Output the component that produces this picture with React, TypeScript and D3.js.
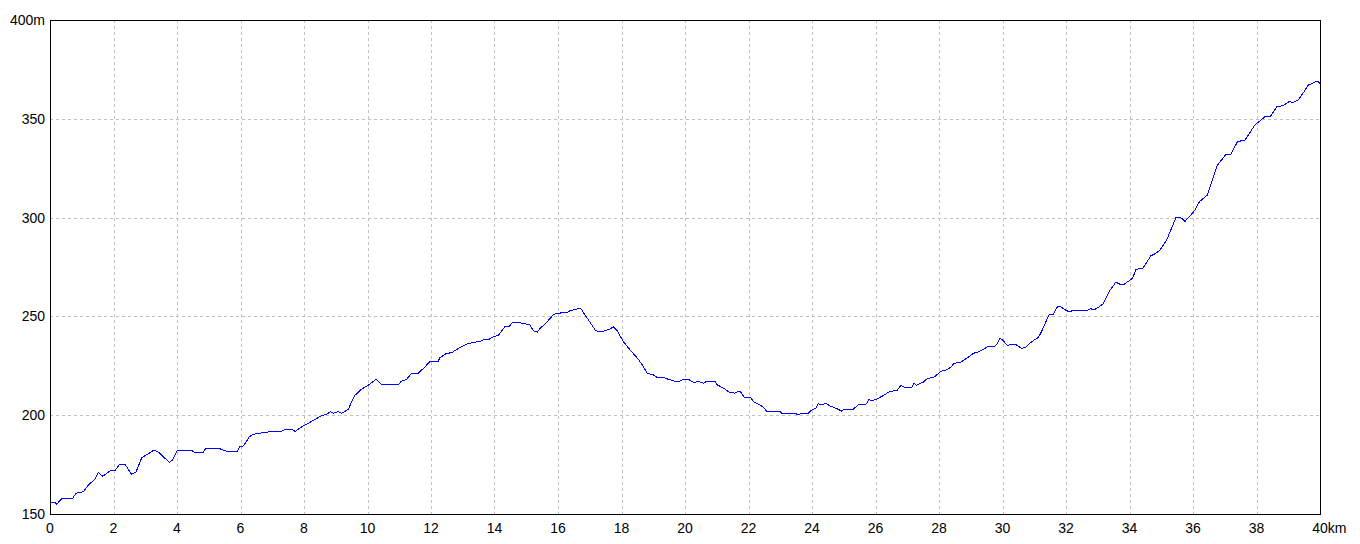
import React from "react";
import * as d3 from "d3";

const distanceKm = [
  0.0, 0.16, 0.21, 0.37, 0.71, 0.82, 1.05, 1.21, 1.42, 1.52, 1.66, 1.89, 2.05, 2.2, 2.36, 2.57, 2.71, 2.89,
  3.15, 3.28, 3.41, 3.62, 3.76, 3.86, 4.01, 4.46, 4.54, 4.83, 4.9, 5.35, 5.62, 5.88, 5.98, 6.09, 6.28, 6.4,
  6.77, 7.03, 7.3, 7.4, 7.61, 7.72, 7.98, 8.19, 8.56, 8.71, 8.84, 8.92, 9.08, 9.19, 9.4, 9.5, 9.6, 9.8, 10.0,
  10.08, 10.27, 10.45, 10.97, 11.05, 11.23, 11.39, 11.6, 11.76, 11.97, 12.23, 12.28, 12.49, 12.65, 12.86,
  13.12, 13.33, 13.54, 13.65, 13.8, 13.96, 14.12, 14.33, 14.47, 14.57, 14.8, 14.89, 15.1, 15.22, 15.35,
  15.45, 15.59, 15.75, 15.87, 16.06, 16.15, 16.32, 16.38, 16.56, 16.67, 16.74, 16.85, 17.0, 17.17, 17.27,
  17.43, 17.53, 17.64, 17.74, 17.85, 18.06, 18.32, 18.53, 18.69, 18.81, 19.0, 19.11, 19.32, 19.47, 19.65,
  19.84, 19.95, 20.1, 20.28, 20.42, 20.58, 20.7, 20.94, 21.02, 21.2, 21.42, 21.57, 21.68, 21.75, 21.86,
  22.05, 22.17, 22.36, 22.47, 22.57, 22.97, 23.05, 23.46, 23.57, 23.67, 23.88, 23.99, 24.12, 24.2, 24.31,
  24.44, 24.57, 24.78, 24.93, 25.04, 25.3, 25.46, 25.69, 25.8, 25.88, 26.02, 26.24, 26.46, 26.67, 26.8,
  26.93, 27.14, 27.21, 27.3, 27.4, 27.5, 27.59, 27.87, 28.05, 28.24, 28.4, 28.47, 28.66, 28.87, 29.08,
  29.24, 29.45, 29.52, 29.76, 29.84, 29.92, 30.03, 30.15, 30.29, 30.43, 30.6, 30.71, 30.92, 31.13, 31.23,
  31.47, 31.6, 31.73, 31.83, 32.02, 32.13, 32.21, 32.7, 32.78, 32.88, 33.02, 33.17, 33.39, 33.57, 33.7,
  33.83, 34.1, 34.2, 34.42, 34.67, 34.86, 34.96, 35.17, 35.3, 35.46, 35.62, 35.75, 35.93, 36.06, 36.2,
  36.45, 36.58, 36.77, 37.04, 37.19, 37.4, 37.64, 37.95, 38.27, 38.43, 38.64, 38.83, 39.03, 39.17, 39.31,
  39.5, 39.63, 39.88, 39.95, 40.0,
];

const elevationM = [
  155.9, 155.9, 154.9, 157.8, 157.8, 160.5, 161.3, 164.7, 167.7, 171.1, 169.1, 171.8, 172.1, 175.2, 175.2,
  170.1, 171.3, 178.5, 181.0, 182.4, 181.4, 178.2, 176.2, 177.3, 182.2, 182.2, 181.2, 181.2, 183.2, 183.0,
  181.4, 181.4, 184.1, 184.4, 189.1, 190.3, 191.3, 191.8, 191.8, 192.9, 192.9, 191.8, 194.7, 196.4, 199.8,
  200.5, 201.8, 201.0, 201.8, 201.0, 203.0, 206.8, 210.0, 213.0, 215.0, 215.8, 218.2, 215.3, 215.3, 217.0,
  218.2, 221.2, 221.2, 223.7, 227.1, 227.4, 229.1, 231.3, 231.6, 233.8, 235.9, 236.9, 237.2, 238.1, 238.1,
  239.7, 240.4, 244.8, 245.1, 247.0, 247.0, 246.3, 246.0, 242.8, 242.0, 244.3, 246.0, 249.0, 251.1, 251.6,
  252.2, 252.2, 252.9, 253.6, 254.1, 253.6, 250.7, 247.3, 243.1, 242.1, 242.4, 243.1, 243.6, 244.8, 243.1,
  237.2, 232.1, 228.3, 224.6, 221.2, 220.4, 219.2, 219.2, 218.2, 217.3, 217.3, 218.2, 218.2, 216.5, 217.2,
  216.2, 217.3, 217.3, 215.3, 213.8, 211.4, 211.2, 212.1, 211.9, 209.2, 209.1, 206.8, 205.2, 204.0, 202.1,
  202.1, 201.0, 201.0, 200.1, 201.0, 201.0, 202.6, 203.5, 205.8, 205.2, 206.0, 204.7, 203.3, 202.1, 203.1,
  203.1, 205.2, 205.2, 208.0, 207.3, 208.0, 209.9, 212.1, 212.4, 215.1, 214.1, 214.1, 216.2, 215.1, 216.2,
  216.5, 218.2, 219.5, 222.2, 222.9, 224.6, 226.3, 226.6, 228.8, 231.3, 232.0, 233.8, 234.7, 235.0, 236.4,
  238.9, 237.7, 235.2, 236.0, 235.7, 233.8, 234.2, 237.2, 239.4, 242.3, 251.1, 251.1, 254.9, 254.9, 252.9,
  252.2, 253.2, 253.2, 253.9, 253.2, 254.6, 256.3, 263.4, 267.3, 266.3, 266.3, 269.3, 273.8, 274.3, 280.6,
  282.2, 283.6, 288.7, 293.7, 299.9, 299.9, 298.1, 301.3, 303.8, 308.0, 311.4, 317.4, 326.6, 332.0, 332.0,
  338.4, 339.3, 346.9, 351.1, 351.1, 356.1, 356.6, 358.7, 358.3, 359.5, 363.7, 367.1, 368.8, 368.8, 367.6,
];

const xTicks = [0, 2, 4, 6, 8, 10, 12, 14, 16, 18, 20, 22, 24, 26, 28, 30, 32, 34, 36, 38, 40];
const yTicks = [150, 200, 250, 300, 350, 400];
const xUnit = "km";
const yUnit = "m";

export default function App() {
  const width = 1360;
  const height = 544;
  const left = 50;
  const right = 1320;
  const top = 20;
  const bottom = 514;
  const x = d3.scaleLinear().domain([0, 40]).range([left, right]);
  const y = d3.scaleLinear().domain([150, 400]).range([bottom, top]);
  const line = d3
    .line<number>()
    .x((_, i) => x(distanceKm[i]))
    .y((d) => y(d));
  const path = line(elevationM) || "";
  const font = "'Liberation Sans', Arial, sans-serif";
  const lastX = xTicks[xTicks.length - 1];
  const lastY = yTicks[yTicks.length - 1];

  return (
    <svg
      width={width}
      height={height}
      style={{ position: "absolute", left: 0, top: 0, background: "#fff" }}
    >
      <rect x={0} y={0} width={width} height={height} fill="#fff" />
      {xTicks.slice(1, -1).map((t) => (
        <line
          key={"gx" + t}
          x1={Math.round(x(t)) + 0.5}
          x2={Math.round(x(t)) + 0.5}
          y1={top}
          y2={bottom}
          stroke="#c0c0c0"
          strokeDasharray="3,3"
          shapeRendering="crispEdges"
        />
      ))}
      {yTicks.slice(1, -1).map((t) => (
        <line
          key={"gy" + t}
          x1={left}
          x2={right}
          y1={Math.round(y(t)) + 0.5}
          y2={Math.round(y(t)) + 0.5}
          stroke="#c0c0c0"
          strokeDasharray="3,3"
          shapeRendering="crispEdges"
        />
      ))}
      <path
        d={path}
        fill="none"
        stroke="#0000ff"
        strokeWidth={1}
        shapeRendering="crispEdges"
      />
      <rect
        x={left + 0.5}
        y={top + 0.5}
        width={right - left}
        height={bottom - top}
        fill="none"
        stroke="#000"
        strokeWidth={1}
        shapeRendering="crispEdges"
      />
      {xTicks.map((t) =>
        t === lastX ? (
          <text
            key={"tx" + t}
            x={x(t) - 7.8}
            y={533}
            fontFamily={font}
            fontSize={14}
            fill="#000"
          >
            {t + xUnit}
          </text>
        ) : (
          <text
            key={"tx" + t}
            x={x(t)}
            y={533}
            textAnchor="middle"
            fontFamily={font}
            fontSize={14}
            fill="#000"
          >
            {t}
          </text>
        )
      )}
      {yTicks.map((t) => (
        <text
          key={"ty" + t}
          x={45}
          y={y(t) + 5}
          textAnchor="end"
          fontFamily={font}
          fontSize={14}
          fill="#000"
        >
          {t === lastY ? t + yUnit : t}
        </text>
      ))}
    </svg>
  );
}
